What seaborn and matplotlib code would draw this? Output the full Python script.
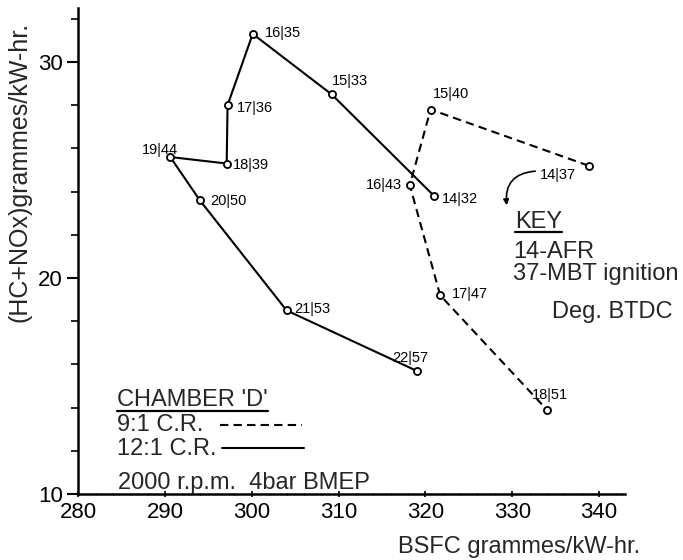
import matplotlib
matplotlib.use("Agg")
import matplotlib.pyplot as plt
import seaborn as sns
import pandas as pd
from matplotlib.lines import Line2D
from matplotlib.ticker import MultipleLocator

# ---------------- data ----------------
cr12_labels = ["14|32", "15|33", "16|35", "17|36", "18|39", "19|44", "20|50", "21|53", "22|57"]
cr12_bsfc = [321.0, 309.2, 300.1, 297.2, 297.1, 290.6, 294.0, 304.0, 319.0]
cr12_emis = [23.8, 28.5, 31.3, 28.0, 25.3, 25.6, 23.6, 18.5, 15.7]

cr9_labels = ["14|37", "15|40", "16|43", "17|47", "18|51"]
cr9_bsfc = [338.8, 320.6, 318.2, 321.7, 334.0]
cr9_emis = [25.2, 27.8, 24.3, 19.2, 13.9]

x_ticks = [280, 290, 300, 310, 320, 330, 340]
y_ticks = [10, 20, 30]

series_names = ["9:1 C.R.", "12:1 C.R."]
chamber_title = "CHAMBER 'D'"
condition_text = "2000 r.p.m.  4bar BMEP"
key_lines = ["14-AFR", "37-MBT ignition"]
key_last = "Deg. BTDC"

# label layout (pixel offsets from each point, dy up) and alignment
cr12_offsets = [(8, -3.5, "left"), (0, 13.5, "left"), (12, 0.5, "left"), (9, -2.5, "left"),
                (6, -1.5, "left"), (8, 7.5, "right"), (10, -0.5, "left"), (8, 1.5, "left"),
                (-24, 12.5, "left")]
cr9_offsets = [(-13, -9.5, "right"), (2, 16, "left"), (-8, 0, "right"), (12, 1.5, "left"),
               (-15, 15, "left")]

df12 = pd.DataFrame({"bsfc": cr12_bsfc, "emis": cr12_emis, "lab": cr12_labels})
df9 = pd.DataFrame({"bsfc": cr9_bsfc, "emis": cr9_emis, "lab": cr9_labels})

sns.set_theme(style="ticks")
plt.rcParams["font.family"] = ["Liberation Sans", "DejaVu Sans"]

W, H = 683, 560
AX_BOTTOM = 494
fig = plt.figure(figsize=(W / 100, H / 100), dpi=100)
ax = fig.add_axes([78.3 / W, 1 - AX_BOTTOM / H, (625 - 78.3) / W, (AX_BOTTOM - 8) / H])

dash = (0, (4, 2.5))
sns.lineplot(data=df12, x="bsfc", y="emis", sort=False, estimator=None, ax=ax,
             color="black", lw=1.5, zorder=2)
sns.lineplot(data=df9, x="bsfc", y="emis", sort=False, estimator=None, ax=ax,
             color="black", lw=1.5, linestyle=dash, zorder=2)
for d in (df12, df9):
    sns.scatterplot(data=d, x="bsfc", y="emis", ax=ax, s=26, color="white",
                    edgecolor="black", linewidth=1.3, zorder=3)

for d, offs in ((df12, cr12_offsets), (df9, cr9_offsets)):
    for (x, y, lab), (dx, dy, ha) in zip(d[["bsfc", "emis", "lab"]].values, offs):
        ax.annotate(lab, (x, y), xytext=(dx, dy), textcoords="offset pixels",
                    ha=ha, va="center", fontsize=10.5, color="black")

ax.set_xlim(280, 343)
ax.set_ylim(10, 32.5)
ax.set_xticks(x_ticks)
ax.set_yticks(y_ticks)
ax.yaxis.set_minor_locator(MultipleLocator(2))
ax.xaxis.set_minor_locator(MultipleLocator(2))
sns.despine(ax=ax)
for s in ("left", "bottom"):
    ax.spines[s].set_linewidth(1.8)
    ax.spines[s].set_color("black")
ax.tick_params(axis="y", which="major", length=8, width=1.5, labelsize=16, pad=3, colors="black")
ax.tick_params(axis="y", which="minor", length=5, width=1.2, colors="black")
ax.tick_params(axis="x", which="major", length=4, width=1.2, direction="inout", labelsize=16, pad=4,
               colors="black")
ax.tick_params(axis="x", which="minor", length=2, width=0.8, direction="inout", colors="black")
ax.grid(False)

ax.set_xlabel("BSFC grammes/kW-hr.", fontsize=17)
ax.xaxis.set_label_coords(0.806, -0.087)
ax.set_ylabel("(HC+NOx)grammes/kW-hr.", fontsize=18)
ax.yaxis.set_label_coords(-0.085, 0.663)


def fp(x, y):
    return (x / W, 1 - y / H)


def hline(x0, x1, y, **kw):
    (a, b), (c, _) = fp(x0, y), fp(x1, y)
    fig.add_artist(Line2D([a, c], [b, b], transform=fig.transFigure, color="black", **kw))


# legend block (chamber description)
t_title = fig.text(*fp(117, 406), chamber_title, fontsize=17, va="baseline", ha="left")
fig.text(*fp(117, 431), series_names[0], fontsize=17, va="baseline", ha="left")
fig.text(*fp(117, 455), series_names[1], fontsize=17, va="baseline", ha="left")
hline(220, 302, 425, lw=1.5, linestyle=dash)
hline(222, 304, 448, lw=1.5)
fig.text(*fp(118, 489), condition_text, fontsize=17, va="baseline", ha="left")

# key block
t_key = fig.text(*fp(515, 228), "KEY", fontsize=17, va="baseline", ha="left")
fig.text(*fp(513, 258), key_lines[0], fontsize=17, va="baseline", ha="left")
fig.text(*fp(513, 280), key_lines[1], fontsize=17, va="baseline", ha="left")
fig.text(*fp(552, 318), key_last, fontsize=17, va="baseline", ha="left")

ax.annotate("", xy=(507, H - 208), xycoords="figure pixels", xytext=(538, H - 171),
            textcoords="figure pixels",
            arrowprops=dict(arrowstyle="-|>", connectionstyle="arc3,rad=0.55",
                            lw=1.2, color="black", mutation_scale=8))

# underlines
fig.canvas.draw()
r = fig.canvas.get_renderer()
for t, ypix in ((t_title, 411), (t_key, 232)):
    bb = t.get_window_extent(r)
    hline(bb.x0, bb.x1, ypix, lw=1.6)

fig.savefig("out.png", dpi=100, facecolor="white")
